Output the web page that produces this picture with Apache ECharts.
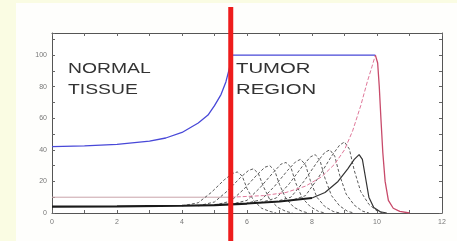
<!DOCTYPE html>
<html>
<head>
<meta charset="utf-8">
<script src="https://cdn.jsdelivr.net/npm/echarts@6/dist/echarts.min.js"></script>
<style>
  html, body { margin: 0; padding: 0; background: #fafce3; }
  #main { width: 457px; height: 241px; }
</style>
</head>
<body>
<div id="main"></div>
<script>
// x ticks / y ticks
var xTicks = [0, 2, 4, 6, 8, 10, 12];
var yTicks = [0, 20, 40, 60, 80, 100];

// blue curve: normal tissue rising to tumor plateau
var blueCurve = [[0,42],[1,42.5],[2,43.5],[3,45.5],[3.5,47.5],[4,51],[4.5,57],[4.8,62],[5.0,68],[5.2,75],
    [5.35,83],[5.45,91],[5.55,100],[7,100],[8,100],[9,100],[9.95,100]];
// thin pink level, then dashed pink rise to the peak
var pinkFlat = [[0,10],[5.5,10]];
var pinkRise = [[5.5,10],[6.5,11],[7.2,13],[7.8,17],[8.3,23],[8.7,31],[9.0,40],[9.25,52],[9.5,68],[9.7,83],[9.85,93],[9.95,100]];
// red drop after x = 10
var redDrop = [[9.95,100],[10.02,95],[10.07,80],[10.12,60],[10.18,38],[10.25,20],[10.35,8],[10.5,3],[10.7,1],[11.0,0]];
// thick black baseline and its last bump
var blackBase = [[0,4],[2,4.2],[4,4.6],[5,5],[5.5,5.5],[6,6],[7,7.3],[8,9.5]];
var blackBump = [[8.0,9.5],[8.4,13],[8.8,20],[9.1,28],[9.3,34],[9.45,37],[9.55,34],[9.65,22],[9.75,10],[9.9,3.5],[10.1,0.8],[10.3,0]];
// dashed bumps
var bump1 = [[4.0,4.5],[4.5,6.5],[4.9,13],[5.3,21],[5.55,25],[5.7,26],[5.85,23.5],[6.0,15.5],[6.2,8],[6.45,3],[6.7,1],[6.9,0]];
var bump2 = [[4.5,4.5],[5.0,7],[5.4,14],[5.8,22.5],[6.05,27],[6.2,28],[6.35,25],[6.5,17],[6.7,8.5],[6.95,3.5],[7.2,1],[7.4,0]];
var bump3 = [[5.0,5],[5.5,7.5],[5.9,15],[6.3,24],[6.55,29],[6.7,30],[6.85,27],[7.0,18],[7.2,9],[7.45,3.5],[7.7,1],[7.9,0]];
var bump4 = [[5.5,5.5],[6.0,8],[6.4,16],[6.8,25.5],[7.05,31],[7.2,32],[7.35,29],[7.5,19],[7.7,9.5],[7.95,4],[8.2,1],[8.4,0]];
var bump5 = [[5.95,6],[6.45,8.5],[6.85,17],[7.25,27],[7.5,32.5],[7.65,34],[7.8,30.5],[7.95,20.5],[8.15,10],[8.4,4],[8.65,1],[8.85,0]];
var bump6 = [[6.4,6.5],[6.9,9.5],[7.3,18.5],[7.7,29.5],[7.95,35.5],[8.1,37],[8.25,33],[8.4,22],[8.6,11],[8.85,4.5],[9.1,1],[9.3,0]];
var bump7 = [[6.85,7],[7.35,10],[7.75,20],[8.15,32],[8.4,38.5],[8.55,40],[8.7,36],[8.85,24],[9.05,12],[9.3,5],[9.55,1.2],[9.75,0]];
var bump8 = [[7.3,7.5],[7.8,11],[8.2,22.5],[8.6,36],[8.85,43],[9.0,45],[9.15,40.5],[9.3,27],[9.5,13.5],[9.75,5.5],[10.0,1.3],[10.2,0]];
var bumps = [bump1, bump2, bump3, bump4, bump5, bump6, bump7, bump8];
// red vertical marker
var markerX = 5.5;

var myChart = echarts.init(document.getElementById('main'));

function line(data, color, width, type) {
    return {
        type: 'line', data: data, symbol: 'none', smooth: false, animation: false,
        lineStyle: { color: color, width: width, type: type || 'solid' }
    };
}

var axisCommon = {
    axisLine: { show: true, onZero: false, lineStyle: { color: '#555', width: 1 } },
    axisTick: { show: true, inside: true, length: 3, lineStyle: { color: '#666' } },
    splitLine: { show: false }
};

var series = [];
series.push(line(pinkFlat, '#c9a3ab', 1));
for (var i = 0; i < bumps.length; i++) {
    series.push(line(bumps[i], '#5a5a5a', 1, [3, 2]));
}
series.push(line(pinkRise, '#e0789a', 1, [4, 2]));
series.push(line(blackBase, '#1a1a1a', 2.2));
series.push(line(blackBump, '#333', 1.2));
series.push(line(blueCurve, '#4848d8', 1.3));
series.push(line(redDrop, '#c84a6a', 1.3));

var option = {
    backgroundColor: '#fafce3',
    grid: { left: 52, right: 15, top: 33, bottom: 28 },
    xAxis: [
        Object.assign({
            type: 'value', min: 0, max: 12, interval: 1, position: 'bottom',
            axisLabel: {
                color: '#777', fontSize: 7, margin: 6, fontFamily: 'Liberation Sans',
                formatter: function (v) { return xTicks.indexOf(v) >= 0 ? String(v) : ''; }
            }
        }, axisCommon),
        Object.assign({
            type: 'value', min: 0, max: 12, interval: 1, position: 'top',
            axisLabel: { show: false }
        }, axisCommon)
    ],
    yAxis: [
        Object.assign({
            type: 'value', min: 0, max: 114, interval: 10, position: 'left',
            axisLabel: {
                color: '#777', fontSize: 7, margin: 5, fontFamily: 'Liberation Sans',
                formatter: function (v) { return yTicks.indexOf(v) >= 0 ? String(v) : ''; }
            }
        }, axisCommon),
        Object.assign({
            type: 'value', min: 0, max: 114, interval: 10, position: 'right',
            axisLabel: { show: false }
        }, axisCommon)
    ],
    series: series
};
myChart.setOption(option);

// red vertical bar placed at markerX through the x scale
var px = myChart.convertToPixel({ xAxisIndex: 0 }, markerX);
myChart.setOption({
    graphic: [
        { type: 'rect', z: -10, shape: { x: 16, y: 3, width: 441, height: 238 }, style: { fill: '#fefefc' } },
        { type: 'rect', z: -9, shape: { x: 52, y: 33, width: 390, height: 180 }, style: { fill: '#ffffff' } },
        { type: 'text', x: 68, y: 59, scaleX: 1.38, style: { text: 'NORMAL\nTISSUE', font: '14px "Liberation Sans"', fill: '#333', lineHeight: 20.5 } },
        { type: 'text', x: 236, y: 59, scaleX: 1.45, style: { text: 'TUMOR\nREGION', font: '14px "Liberation Sans"', fill: '#333', lineHeight: 20.5 } },
        { type: 'line', z: 100, shape: { x1: px, y1: 7, x2: px, y2: 241 }, style: { stroke: '#ee1c1c', lineWidth: 5 } }
    ]
});
</script>
</body>
</html>
